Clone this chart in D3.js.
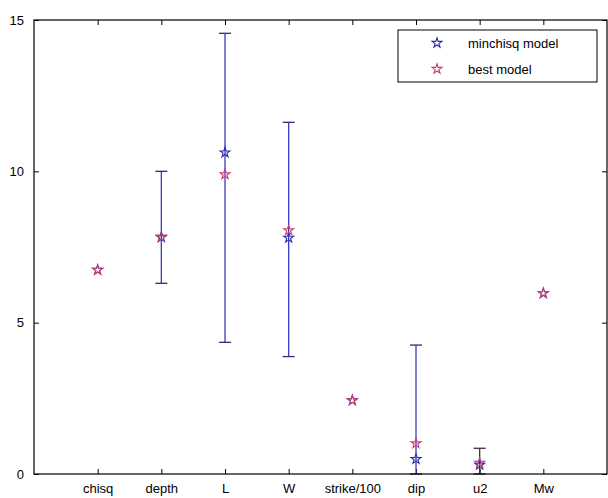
<!DOCTYPE html>
<html>
<head>
<meta charset="utf-8">
<script src="https://cdn.jsdelivr.net/npm/d3@7"></script>
<style>
  body { margin: 0; background: #fff; }
  text { font-family: "Liberation Sans", Arial, sans-serif; }
</style>
</head>
<body>
<div id="chart"></div>
<script>
// Parameter names along the x axis
const params = ["chisq", "depth", "L", "W", "strike/100", "dip", "u2", "Mw"];

// Values
const minchisqModel = [6.74, 7.82, 10.62, 7.80, 2.43, 0.49, 0.30, 5.97];
const bestModel     = [6.74, 7.84, 9.90, 8.05, 2.43, 1.01, 0.37, 5.97];

// Error bar ranges (null = none)
const errLow  = [null, 6.30, 4.35, 3.88, null, 0.00, 0.00, null];
const errHigh = [null, 10.00, 14.56, 11.62, null, 4.26, 0.85, null];
const errColor = ["", "#3b3bc4", "#3b3bc4", "#3b3bc4", "", "#3b3bc4", "#333333", ""];

const yTicks = [0, 5, 10, 15];
const legendLabels = ["minchisq model", "best model"];

const width = 608, height = 498;
const mLeft = 34, mRight = 607, mTop = 20, mBottom = 474;

const svg = d3.select("#chart").append("svg")
    .attr("width", width)
    .attr("height", height);

svg.append("rect").attr("width", width).attr("height", height).attr("fill", "#fff");

const x = d3.scaleLinear().domain([0, 9]).range([mLeft, mRight]);
const y = d3.scaleLinear().domain([0, 15]).range([mBottom, mTop]);

// Axes (MATLAB style: ticks inward on all sides)
const xPos = params.map((d, i) => i + 1);

svg.append("g")
    .attr("transform", `translate(0,${mBottom})`)
    .call(d3.axisBottom(x).tickValues(xPos).tickFormat((d, i) => params[i]).tickSizeInner(-5).tickSizeOuter(0).tickPadding(10))
    .call(g => g.select(".domain").remove());

svg.append("g")
    .attr("transform", `translate(0,${mTop})`)
    .call(d3.axisTop(x).tickValues(xPos).tickFormat("").tickSizeInner(-5).tickSizeOuter(0))
    .call(g => g.select(".domain").remove());

svg.append("g")
    .attr("transform", `translate(${mLeft},0)`)
    .call(d3.axisLeft(y).tickValues(yTicks).tickSizeInner(-5).tickSizeOuter(0).tickPadding(10))
    .call(g => g.select(".domain").remove());

svg.append("g")
    .attr("transform", `translate(${mRight},0)`)
    .call(d3.axisRight(y).tickValues(yTicks).tickFormat("").tickSizeInner(-5).tickSizeOuter(0))
    .call(g => g.select(".domain").remove());

svg.selectAll(".tick line").attr("stroke", "#000");
svg.selectAll(".tick text").attr("font-size", 13).attr("fill", "#000");

// Error bars
const bars = params.map((p, i) => ({ i, lo: errLow[i], hi: errHigh[i], c: errColor[i] }))
    .filter(d => d.lo !== null);

const eb = svg.append("g");
bars.forEach(d => {
    const cx = x(d.i + 1);
    eb.append("line")
        .attr("x1", cx).attr("x2", cx)
        .attr("y1", y(d.lo)).attr("y2", y(d.hi))
        .attr("stroke", d.c).attr("stroke-width", 1.3);
    [d.lo, d.hi].forEach(v => {
        eb.append("line")
            .attr("x1", cx - 6).attr("x2", cx + 6)
            .attr("y1", y(v)).attr("y2", y(v))
            .attr("stroke", d.c === "#333333" ? "#333" : "#2c2c7a").attr("stroke-width", 1.3);
    });
});

// Star markers
const star = d3.symbol().type(d3.symbolStar).size(30);
const blue = "#2a2ab0", pink = "#c83c70";

function drawStars(vals, color) {
    svg.append("g").selectAll("path")
        .data(vals)
        .join("path")
        .attr("d", star)
        .attr("transform", (d, i) => `translate(${x(i + 1)},${y(d)})`)
        .attr("fill", "none")
        .attr("stroke", color)
        .attr("stroke-width", 1.1);
}
drawStars(minchisqModel, blue);
drawStars(bestModel, pink);

// Box
svg.append("rect")
    .attr("x", mLeft).attr("y", mTop)
    .attr("width", mRight - mLeft).attr("height", mBottom - mTop)
    .attr("fill", "none").attr("stroke", "#000").attr("stroke-width", 1.2);

// Legend
const lg = svg.append("g").attr("transform", "translate(398,30)");
lg.append("rect").attr("width", 199).attr("height", 52)
    .attr("fill", "#fff").attr("stroke", "#000").attr("stroke-width", 1);
[blue, pink].forEach((c, i) => {
    lg.append("path")
        .attr("d", star)
        .attr("transform", `translate(39,${13 + i * 26})`)
        .attr("fill", "none").attr("stroke", c).attr("stroke-width", 1.1);
    lg.append("text")
        .attr("x", 70).attr("y", 18 + i * 26)
        .attr("font-size", 13)
        .text(legendLabels[i]);
});
</script>
</body>
</html>
